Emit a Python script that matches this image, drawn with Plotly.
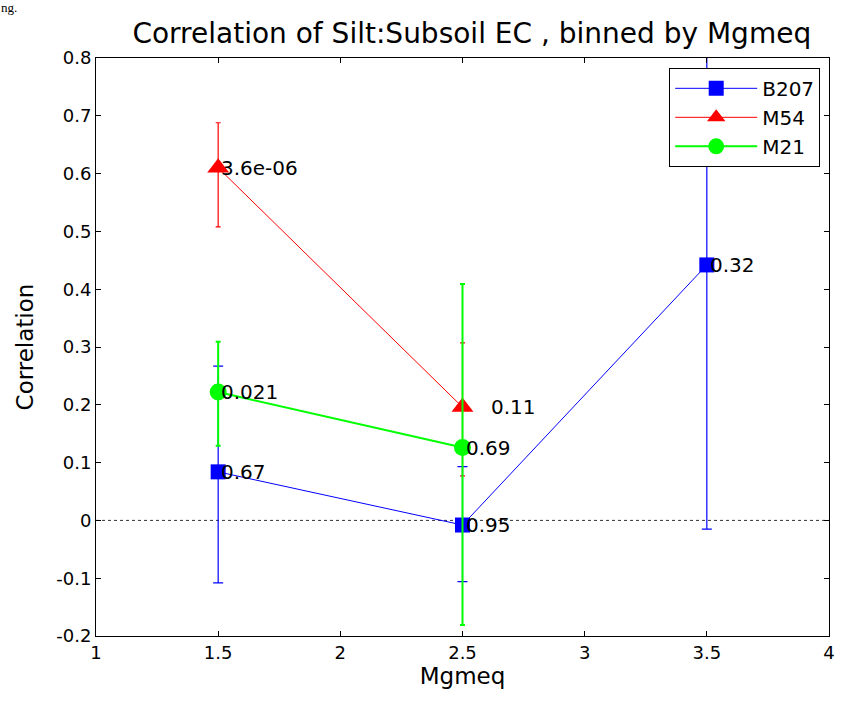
import plotly.graph_objects as go

b207_x = [1.5, 2.5, 3.5]
b207_y = [0.084, -0.008, 0.442]
b207_up = [0.183, 0.101, 0.51]
b207_dn = [0.192, 0.098, 0.457]
b207_lbl = ["0.67", "0.95", "0.32"]

m54_x = [1.5, 2.5]
m54_y = [0.610, 0.196]
m54_up = [0.078, 0.111]
m54_dn = [0.102, 0.119]
m54_lbl = ["3.6e-06", "0.11"]

m21_x = [1.5, 2.5]
m21_y = [0.222, 0.126]
m21_up = [0.087, 0.283]
m21_dn = [0.093, 0.307]
m21_lbl = ["0.021", "0.69"]

x_ticks = [1, 1.5, 2, 2.5, 3, 3.5, 4]
x_tick_text = ["1", "1.5", "2", "2.5", "3", "3.5", "4"]
y_ticks = [-0.2, -0.1, 0, 0.1, 0.2, 0.3, 0.4, 0.5, 0.6, 0.7, 0.8]
y_tick_text = ["-0.2", "-0.1", "0", "0.1", "0.2", "0.3", "0.4", "0.5", "0.6", "0.7", "0.8"]

FONT = "DejaVu Sans, Liberation Sans, Arial, sans-serif"

fig = go.Figure()

fig.add_trace(go.Scatter(
    x=b207_x, y=b207_y, mode="lines+markers", name="B207",
    line=dict(color="#0000ff", width=1),
    marker=dict(symbol="square", size=15, color="#0000ff"),
    error_y=dict(type="data", symmetric=False, array=b207_up, arrayminus=b207_dn,
                 color="#0000ff", thickness=1.2, width=5),
))
fig.add_trace(go.Scatter(
    x=m54_x, y=m54_y, mode="lines+markers", name="M54",
    line=dict(color="#ff0000", width=1),
    marker=dict(symbol="triangle-up", size=19, color="#ff0000"),
    error_y=dict(type="data", symmetric=False, array=m54_up, arrayminus=m54_dn,
                 color="#ff0000", thickness=1.2, width=2.5),
))
fig.add_trace(go.Scatter(
    x=m21_x, y=m21_y, mode="lines+markers", name="M21",
    line=dict(color="#00ff00", width=2),
    marker=dict(symbol="circle", size=17, color="#00ff00"),
    error_y=dict(type="data", symmetric=False, array=m21_up, arrayminus=m21_dn,
                 color="#00ff00", thickness=2, width=2.5),
))

annotations = []
def add_labels(xs, ys, lbls, shifts=None):
    for i, (xx, yy, tt) in enumerate(zip(xs, ys, lbls)):
        sh = 0 if shifts is None else shifts[i]
        annotations.append(dict(
            x=xx, y=yy, text=tt, showarrow=False, xanchor="left", yanchor="middle",
            xshift=sh + 1, font=dict(family=FONT, size=20, color="black"),
        ))

add_labels(b207_x, b207_y, b207_lbl)
add_labels(m54_x, m54_y, m54_lbl, shifts=[0, 25])
add_labels(m21_x, m21_y, m21_lbl)

annotations.append(dict(
    x=0.0, y=1.0, xref="paper", yref="paper", text="ng.", showarrow=False,
    xanchor="left", yanchor="bottom", yshift=41, xshift=-97,
    font=dict(family="Liberation Serif, Times New Roman, serif", size=13, color="black"),
))

fig.update_layout(
    width=841, height=702,
    margin=dict(l=96, r=6, t=58, b=66),
    paper_bgcolor="white", plot_bgcolor="white",
    font=dict(family=FONT, size=18, color="black"),
    title=dict(text="Correlation of Silt:Subsoil EC , binned by Mgmeq",
               x=0.561, xanchor="center", y=0.953, yanchor="middle",
               font=dict(family=FONT, size=28, color="black")),
    showlegend=True,
    legend=dict(x=0.988, xanchor="right", y=0.983, yanchor="top",
                bgcolor="white", bordercolor="black", borderwidth=1,
                font=dict(family=FONT, size=20, color="black"),
                itemwidth=82, tracegroupgap=0),
    annotations=annotations,
    shapes=[dict(type="line", xref="paper", yref="y", x0=0, x1=1, y0=0, y1=0,
                 line=dict(color="#333333", width=1, dash="dot"), layer="below")],
)

fig.update_xaxes(
    range=[1, 4], tickmode="array", tickvals=x_ticks, ticktext=x_tick_text,
    showgrid=False, zeroline=False, showline=True, linecolor="black", linewidth=1,
    mirror="ticks", ticks="inside", ticklen=5, tickcolor="black",
    title=dict(text="Mgmeq", font=dict(family=FONT, size=23), standoff=6),
    tickfont=dict(family=FONT, size=18),
)
fig.update_yaxes(
    range=[-0.2, 0.8], tickmode="array", tickvals=y_ticks, ticktext=y_tick_text,
    showgrid=False, zeroline=False, showline=True, linecolor="black", linewidth=1,
    mirror="ticks", ticks="inside", ticklen=5, tickcolor="black",
    title=dict(text="Correlation", font=dict(family=FONT, size=23), standoff=16),
    tickfont=dict(family=FONT, size=18),
)

fig.write_html("out.html")
